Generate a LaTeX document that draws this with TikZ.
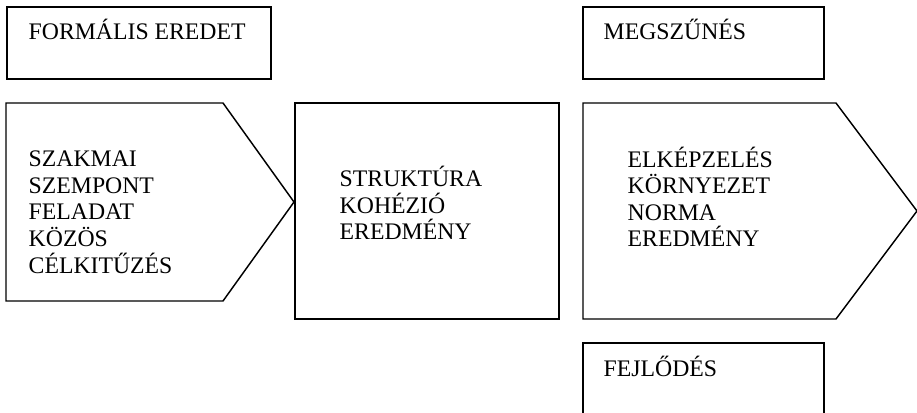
\documentclass[tikz,border=0pt]{standalone}
\usepackage{fontspec}
\setmainfont{Liberation Serif}
\begin{document}
\begin{tikzpicture}[x=0.75pt,y=-0.75pt, line width=1.1pt,
	label/.style={anchor=base west, inner sep=0pt, align=left, font=\fontsize{17.8}{19.9}\selectfont}]
		\useasboundingbox (0,0) rectangle (917,413);
		\clip (-2,-2) rectangle (919,415);
		% felso dobozok
		\draw (7,7) rectangle (271,79);
		\draw (583,7) rectangle (824,79);
		% also doboz, lelog a kepbol
		\draw (583,343) rectangle (824,440);
		% kozepso sor
		\draw (6,103) -- (223,103) -- (294,202) -- (223,301) -- (6,301) -- cycle;
		\draw (295,103) rectangle (559,319);
		\draw (583,103) -- (836,103) -- (917,211) -- (836,319) -- (583,319) -- cycle;
		% a base anchor az utolso sorra esik
		\node[label] (formalis) at (28,40) {FORMÁLIS EREDET};
		\node[label] (megszunes) at (603,40) {MEGSZŰNÉS};
		\node[label] (fejlodes) at (603,376) {FEJLŐDÉS};
		\node[label] (szakmai) at (28,273) {SZAKMAI\\SZEMPONT\\FELADAT\\KÖZÖS\\CÉLKITŰZÉS};
		\node[label] (struktura) at (339,240) {STRUKTÚRA\\KOHÉZIÓ\\EREDMÉNY};
		\node[label] (elkepzeles) at (627,247) {ELKÉPZELÉS\\KÖRNYEZET\\NORMA\\EREDMÉNY};
	\end{tikzpicture}
\end{document}
